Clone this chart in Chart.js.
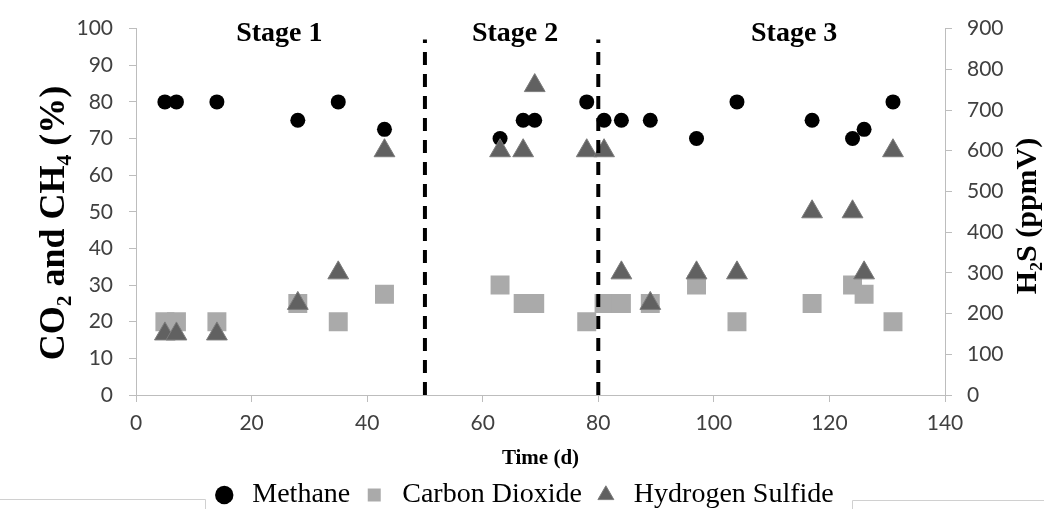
<!DOCTYPE html>
<html>
<head>
<meta charset="utf-8">
<title>Biogas composition</title>
<script src="https://cdn.jsdelivr.net/npm/chart.js@4.4.1/dist/chart.umd.min.js"></script>
<style>
  html, body { margin: 0; padding: 0; background: #fff; overflow: hidden; }
  canvas { display: block; }
</style>
</head>
<body>
<canvas id="myChart" width="1044" height="509"></canvas>
<script>
// values
var days = [5, 7, 14, 28, 35, 43, 63, 67, 69, 78, 81, 84, 89, 97, 104, 117, 124, 126, 131];
var methane = [80, 80, 80, 75, 80, 72.5, 70, 75, 75, 80, 75, 75, 75, 70, 80, 75, 70, 72.5, 80];
var carbonDioxide = [20, 20, 20, 25, 20, 27.5, 30, 25, 25, 20, 25, 25, 25, 30, 20, 25, 30, 27.5, 20];
var hydrogenSulfide = [150, 150, 150, 225, 300, 600, 600, 600, 760, 600, 600, 300, 225, 300, 300, 450, 450, 300, 600];
var stageBounds = [50, 80];
var stageNames = ['Stage 1', 'Stage 2', 'Stage 3'];
var stageCenters = [24.8, 65.6, 113.9];

var serif = '"Liberation Serif", "Times New Roman", serif';
var sans = 'Lato, "Open Sans", sans-serif';
var axisColor = '#bdbdbd';

function toPoints(xs, ys) {
    return xs.map(function(x, i) { return {x: x, y: ys[i]}; });
}

// dashed separators between stages
var separators = stageBounds.map(function(d, i) {
    return {
        type: 'line',
        label: 'sep' + i,
        data: [{x: d, y: 0}, {x: d, y: 97}],
        yAxisID: 'y',
        borderColor: '#000',
        borderWidth: 4,
        borderDash: [13, 9],
        borderCapStyle: 'butt',
        pointRadius: 0,
        fill: false,
        order: 1
    };
});

function drawVertical(ctx, text, x, y, font) {
    ctx.save();
    ctx.translate(x, y);
    ctx.rotate(-Math.PI / 2);
    ctx.font = font;
    ctx.fillText(text, 0, 0);
    ctx.restore();
}

var extras = {
    id: 'extras',
    beforeDraw: function(chart) {
        var ctx = chart.ctx;
        ctx.save();
        ctx.fillStyle = '#fff';
        ctx.fillRect(0, 0, chart.width, chart.height);
        ctx.restore();
    },
    afterDraw: function(chart) {
        var ctx = chart.ctx;
        var xs = chart.scales.x;
        var area = chart.chartArea;
        ctx.save();
        ctx.fillStyle = '#000';
        ctx.textAlign = 'center';
        ctx.textBaseline = 'middle';
        ctx.font = 'bold 28px ' + serif;
        stageNames.forEach(function(name, i) {
            ctx.fillText(name, xs.getPixelForValue(stageCenters[i]), area.top + 5.5);
        });
        drawVertical(ctx, 'CO\u2082 and CH\u2084 (%)', 55, 223, 'bold 36px ' + serif);
        drawVertical(ctx, 'H\u2082S (ppmV)', 1028, 216, 'bold 30px ' + serif);

        // bits of the legend frame
        ctx.strokeStyle = '#d0d0d0';
        ctx.lineWidth = 1;
        ctx.beginPath();
        ctx.moveTo(0, 499.5); ctx.lineTo(205.5, 499.5); ctx.lineTo(205.5, 509);
        ctx.moveTo(852.5, 509); ctx.lineTo(852.5, 500.5); ctx.lineTo(1044, 500.5);
        ctx.stroke();
        ctx.restore();
    }
};

var tickFont = {family: sans, size: 21};

var ctx = document.getElementById('myChart').getContext('2d');
var myChart = new Chart(ctx, {
    type: 'scatter',
    data: {
        datasets: [{
            label: 'Methane',
            data: toPoints(days, methane),
            yAxisID: 'y',
            pointStyle: 'circle',
            pointRadius: 7.5,
            backgroundColor: '#000',
            borderColor: '#000',
            borderWidth: 0,
            order: 3
        }, {
            label: 'Carbon Dioxide',
            data: toPoints(days, carbonDioxide),
            yAxisID: 'y',
            pointStyle: 'rect',
            pointRadius: 13.4,
            backgroundColor: '#aaaaaa',
            borderColor: '#aaaaaa',
            borderWidth: 0,
            order: 4
        }, {
            label: 'Hydrogen Sulfide',
            data: toPoints(days, hydrogenSulfide),
            yAxisID: 'y1',
            pointStyle: 'triangle',
            pointRadius: 12,
            backgroundColor: '#616161',
            borderColor: '#7c7c7c',
            borderWidth: 1,
            order: 2
        }].concat(separators)
    },
    options: {
        responsive: false,
        animation: false,
        layout: {padding: {left: 0, right: 0, top: 27, bottom: -10}},
        plugins: {
            tooltip: {enabled: false},
            legend: {
                position: 'bottom',
                labels: {
                    usePointStyle: true,
                    boxHeight: 13,
                    padding: 10,
                    color: '#000',
                    font: {family: serif, size: 28},
                    filter: function(item) { return item.datasetIndex < 3; },
                    sort: function(a, b) { return a.datasetIndex - b.datasetIndex; }
                }
            }
        },
        scales: {
            x: {
                type: 'linear',
                min: 0,
                max: 140,
                ticks: {stepSize: 20, padding: 9, color: '#404040', font: tickFont},
                grid: {display: true, drawOnChartArea: false, drawTicks: true, tickLength: 7, color: axisColor},
                border: {display: true, color: axisColor},
                title: {
                    display: true,
                    text: 'Time (d)',
                    color: '#000',
                    font: {family: serif, size: 21, weight: 'bold'},
                    padding: {top: 0, bottom: 0}
                },
                afterFit: function(scale) { scale.height = 76; }
            },
            y: {
                position: 'left',
                min: 0,
                max: 100,
                ticks: {stepSize: 10, padding: 16, color: '#404040', font: tickFont},
                grid: {display: true, drawOnChartArea: false, drawTicks: true, tickLength: 7, color: axisColor},
                border: {display: true, color: axisColor},
                afterFit: function(scale) { scale.width = 136; }
            },
            y1: {
                position: 'right',
                min: 0,
                max: 900,
                ticks: {stepSize: 100, padding: 15, color: '#404040', font: tickFont},
                grid: {display: true, drawOnChartArea: false, drawTicks: true, tickLength: 7, color: axisColor},
                border: {display: true, color: axisColor},
                afterFit: function(scale) { scale.width = 99; }
            }
        }
    },
    plugins: [extras]
});
</script>
</body>
</html>
